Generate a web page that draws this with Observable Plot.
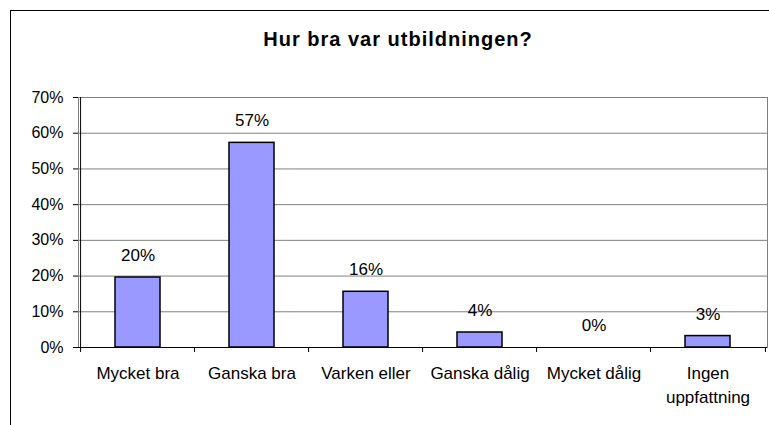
<!DOCTYPE html>
<html>
<head>
<meta charset="utf-8">
<script src="https://cdn.jsdelivr.net/npm/d3@7"></script>
<script src="https://cdn.jsdelivr.net/npm/@observablehq/plot@0.6"></script>
<style>
  html, body { margin: 0; padding: 0; background: #fff; overflow: hidden; }
  #wrap { position: relative; width: 769px; height: 425px; }
  #border { position: absolute; left: 10px; top: 10px; width: 800px; height: 500px;
            border-left: 1px solid #000; border-top: 1px solid #000; box-sizing: border-box; }
  #chart { position: absolute; left: 0; top: 0; }
  svg { font-family: "Liberation Sans", Arial, sans-serif; }
</style>
</head>
<body>
<div id="wrap"><div id="border"></div><div id="chart"></div></div>
<script>
const title = "Hur bra var utbildningen?";
const categories = ["Mycket bra", "Ganska bra", "Varken eller", "Ganska dålig", "Mycket dålig", "Ingen uppfattning"];
const values = [19.6, 57.3, 15.6, 4.2, 0, 3.2];
const valueLabels = ["20%", "57%", "16%", "4%", "0%", "3%"];
const yTicks = [0, 10, 20, 30, 40, 50, 60, 70];

const data = categories.map((c, i) => ({cat: c, value: values[i], label: valueLabels[i]}));

const W = 769, H = 425, ML = 78, MR = 2, MT = 97, MB = 78;
const step = (W - ML - MR) / categories.length;
const tickLen = 5 * 70 / (H - MT - MB);

const chart = Plot.plot({
  width: W, height: H,
  marginLeft: ML, marginRight: MR, marginTop: MT, marginBottom: MB,
  style: {fontFamily: "'Liberation Sans', Arial, sans-serif", fontSize: "16px", color: "#000", background: "transparent"},
  x: {domain: categories, paddingInner: 0.608, paddingOuter: 0.304, label: null},
  y: {domain: [0, 70], label: null},
  marks: [
    Plot.ruleY(yTicks, {stroke: "#808080", strokeWidth: 1}),
    Plot.frame({stroke: "#808080"}),
    Plot.barY(data, {x: "cat", y: "value", fill: "#9999FF", stroke: "#000", strokeWidth: 1.5}),
    Plot.text(data, {x: "cat", y: "value", text: "label", dy: -22, fontSize: 17, fill: "#000"}),
    Plot.ruleY([0], {stroke: "#000", strokeWidth: 1}),
    Plot.ruleX([0], {x: () => categories[0], dx: -step / 2, y1: 0, y2: 70, stroke: "#000"}),
    Plot.ruleX(categories, {x: d => d, dx: -step / 2, y1: 0, y2: -tickLen, stroke: "#000"}),
    Plot.ruleX([categories[categories.length - 1]], {x: d => d, dx: step / 2, y1: 0, y2: -tickLen, stroke: "#000"}),
    Plot.axisY(yTicks, {tickSize: 5, tickPadding: 10, tickFormat: d => d + "%", fontSize: 16, label: null, stroke: "#000"}),
    Plot.axisX({tickSize: 0, tickPadding: 14, fontSize: 17, lineHeight: 1.42, label: null,
      tickFormat: d => d === "Ingen uppfattning" ? "Ingen\nuppfattning" : d}),
    Plot.text([title], {frameAnchor: "top", lineAnchor: "middle", dy: -58, dx: -25, fontSize: 20, fontWeight: "bold", fill: "#000"})
  ]
});
document.getElementById("chart").appendChild(chart);
// letter spacing for the title text
chart.querySelectorAll("text").forEach(t => { if (t.textContent === title) t.style.letterSpacing = "1px"; });
</script>
</body>
</html>
